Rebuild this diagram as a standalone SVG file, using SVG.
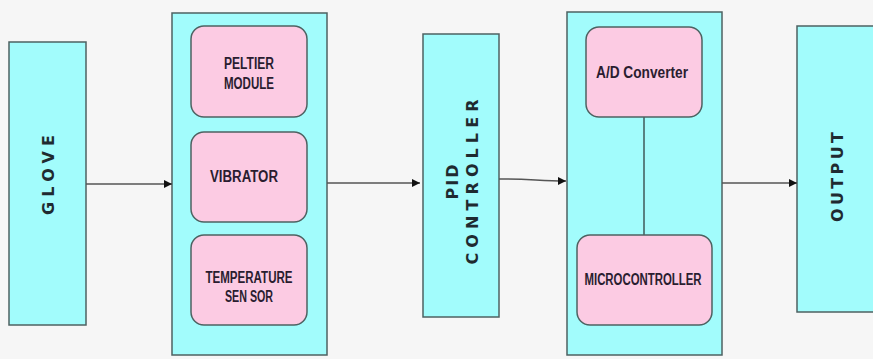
<svg xmlns="http://www.w3.org/2000/svg" width="873" height="359" viewBox="0 0 873 359">
<defs>
<style>
.blk{fill:#a2fcfc;stroke:#4e6262;stroke-width:1.5}
.sub{fill:#fccbe3;stroke:#4e6262;stroke-width:1.5}
.t{font-family:"Liberation Sans",Arial,sans-serif;font-weight:bold;font-size:16px;fill:#2a1d30;text-anchor:middle}
.v{font-family:"DejaVu Sans",Verdana,sans-serif;font-weight:bold;font-size:16px;fill:#1f2a30;text-anchor:middle;dominant-baseline:central}
.c{stroke:#555;stroke-width:1.5;fill:none}
</style>
<marker id="ah" viewBox="0 0 10 10" refX="10" refY="5" markerWidth="8" markerHeight="8" markerUnits="userSpaceOnUse" orient="auto">
<path d="M0,0 L10,5 L0,10 z" fill="#111"/>
</marker>
</defs>
<rect width="873" height="359" fill="#f6f6f6"/>
<g id="glove">
<rect class="blk" x="9" y="42" width="77" height="283"/>
<text class="v" transform="translate(48,175) rotate(-90)" textLength="80" lengthAdjust="spacing">GLOVE</text>
</g>
<g id="sensing">
<rect class="blk" x="172" y="13" width="155" height="342"/>
<g id="peltier">
<rect class="sub" x="191" y="26" width="116" height="91" rx="13"/>
<text class="t" x="249" y="69" textLength="50" lengthAdjust="spacingAndGlyphs">PELTIER</text>
<text class="t" x="249" y="89" textLength="50" lengthAdjust="spacingAndGlyphs">MODULE</text>
</g>
<g id="vibrator">
<rect class="sub" x="191" y="132" width="116" height="90" rx="13"/>
<text class="t" x="244" y="182" textLength="68" lengthAdjust="spacingAndGlyphs">VIBRATOR</text>
</g>
<g id="tempsensor">
<rect class="sub" x="191" y="235" width="116" height="90" rx="13"/>
<text class="t" x="249" y="283" textLength="87" lengthAdjust="spacingAndGlyphs">TEMPERATURE</text>
<text class="t" x="249" y="302" textLength="48" lengthAdjust="spacingAndGlyphs">SEN SOR</text>
</g>
</g>
<g id="pid">
<rect class="blk" x="423" y="34" width="76" height="283"/>
<text class="v" transform="translate(452,182) rotate(-90)" textLength="35" lengthAdjust="spacing">PID</text>
<text class="v" transform="translate(472,182) rotate(-90)" textLength="165" lengthAdjust="spacing">CONTROLLER</text>
</g>
<g id="processing">
<rect class="blk" x="567" y="12" width="155" height="343"/>
<line x1="644" y1="117" x2="644" y2="235" stroke="#3e5a5a" stroke-width="1.5"/>
<g id="adc">
<rect class="sub" x="586" y="27" width="116" height="90" rx="13"/>
<text class="t" x="642" y="78" textLength="92" lengthAdjust="spacingAndGlyphs">A/D Converter</text>
</g>
<g id="mcu">
<rect class="sub" x="577" y="235" width="135" height="90" rx="13"/>
<text class="t" x="643" y="285" textLength="117" lengthAdjust="spacingAndGlyphs">MICROCONTROLLER</text>
</g>
</g>
<g id="output">
<rect class="blk" x="797" y="26" width="90" height="286"/>
<text class="v" transform="translate(837,177) rotate(-90)" textLength="90" lengthAdjust="spacing">OUTPUT</text>
</g>
<g id="connectors">
<line class="c" x1="86" y1="184" x2="172" y2="184" marker-end="url(#ah)"/>
<line class="c" x1="327" y1="183" x2="420" y2="183" marker-end="url(#ah)"/>
<path class="c" d="M499,179 C530,179 540,181 566,181" marker-end="url(#ah)"/>
<line class="c" x1="722" y1="183" x2="797" y2="183" marker-end="url(#ah)"/>
</g>
</svg>
